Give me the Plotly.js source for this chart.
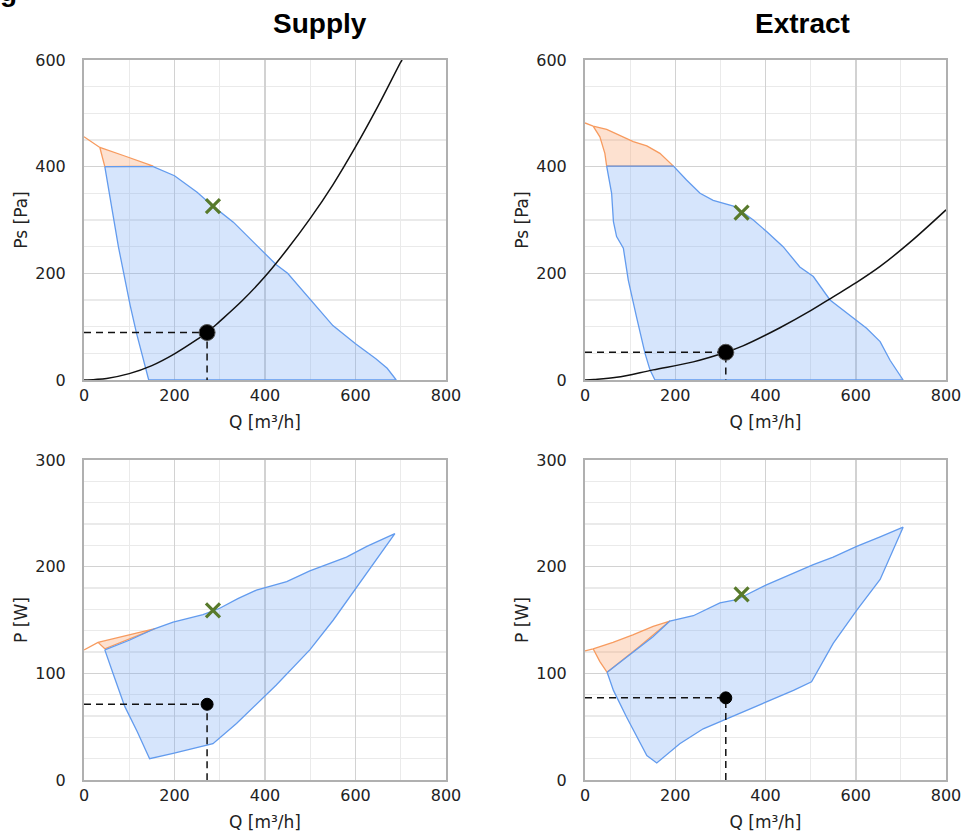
<!DOCTYPE html>
<html>
<head>
<meta charset="utf-8">
<script src="https://cdn.plot.ly/plotly-3.0.1.min.js"></script>
<style>html,body{margin:0;padding:0;background:#fff;}#chart{width:962px;height:836px;}</style>
</head>
<body>
<div id="chart"></div>
<script>
// ---------- Supply : Ps vs Q ----------
const supPsRangeQ  = [46, 100, 153, 200, 250, 285, 330, 375, 425, 450, 500, 550, 600, 645, 670, 690, 143, 130, 116, 102, 88, 76, 62, 46];
const supPsRangePs = [400, 400, 400, 383, 352, 326, 296, 258, 216, 200, 150, 102, 68, 40, 22, 0, 0, 40, 88, 140, 200, 250, 320, 400];
const supPsOverQ   = [0, 35, 90, 153, 46, 35];
const supPsOverPs  = [456, 436, 420, 401, 400, 436];
const supSysQ      = [0, 25, 50, 100, 150, 200, 250, 272, 300, 350, 400, 450, 500, 550, 600, 650, 700, 703];
const supSysPs     = [0, 1, 3, 12, 27, 49, 76, 89, 110, 149, 194, 246, 303, 366, 437, 514, 596, 600];
const supOpQ = 272, supOpPs = 89, supOpP = 71;
const supNomQ = 285, supNomPs = 326, supNomP = 159;

// ---------- Supply : P vs Q ----------
const supPRangeQ = [46, 100, 157, 197, 263, 300, 340, 381, 448, 499, 580, 625, 687, 603, 551, 499, 425, 337, 285, 197, 145, 118, 90, 64, 46];
const supPRangeP = [122, 131, 142, 148, 155, 161, 170, 178, 186, 196, 209, 219, 231, 181, 150, 122, 89, 53, 34, 25, 20, 45, 69, 100, 122];
const supPOverQ  = [0, 31, 70, 110, 157, 46, 31];
const supPOverP  = [122, 129, 133, 137, 142, 123, 129];

// ---------- Extract : Ps vs Q ----------
const extPsRangeQ  = [48, 120, 196, 225, 255, 284, 329, 347, 373, 403, 439, 476, 506, 543, 595, 624, 654, 676, 705, 155, 144, 133, 114, 96, 85, 70, 63, 59, 48];
const extPsRangePs = [401, 401, 401, 375, 350, 337, 326, 316, 300, 278, 250, 212, 194, 150, 116, 97, 72, 37, 0, 0, 19, 50, 119, 187, 247, 269, 297, 350, 401];
const extPsOverQ   = [0, 18, 48, 78, 107, 137, 166, 196, 48, 44, 33, 18];
const extPsOverPs  = [482, 476, 470, 459, 447, 439, 425, 401, 401, 425, 456, 476];
const extSysQ      = [0, 20, 70, 151, 240, 312, 350, 432, 500, 550, 600, 654, 720, 800];
const extSysPs     = [0, 1, 5, 19, 34, 52, 64, 98, 130, 156, 182, 213, 258, 319];
const extOpQ = 312, extOpPs = 52, extOpP = 77;
const extNomQ = 347, extNomPs = 314, extNomP = 174;

// ---------- Extract : P vs Q ----------
const extPRangeQ = [49, 100, 150, 188, 240, 299, 336, 402, 447, 506, 550, 602, 654, 705, 654, 602, 550, 502, 462, 395, 314, 262, 210, 159, 137, 92, 63, 49];
const extPRangeP = [101, 118, 134, 149, 154, 166, 169, 183, 191, 202, 209, 219, 228, 237, 188, 159, 128, 92, 84, 72, 58, 48, 34, 16, 23, 59, 84, 101];
const extPOverQ  = [0, 18, 62, 106, 151, 188, 120, 49, 33, 18];
const extPOverP  = [121, 123, 129, 136, 144, 149, 125, 101, 111, 123];

// ---------- axis ticks & labels ----------
const qTicks   = [0, 200, 400, 600, 800];
const psTicks  = [0, 200, 400, 600];
const pTicks   = [0, 100, 200, 300];
const qTitle   = 'Q [m³/h]';
const psTitle  = 'Ps [Pa]';
const pTitle   = 'P [W]';
const panelTitles = ['Supply', 'Extract'];

// ---------- styles ----------
const BLUE_LINE = 'rgb(98,155,238)';
const BLUE_FILL = 'rgba(120,170,245,0.30)';
const ORNG_LINE = 'rgb(247,155,95)';
const ORNG_FILL = 'rgba(250,170,120,0.35)';
const GREEN = '#587a2c';
const FONT = 'DejaVu Sans, Verdana, sans-serif';

const traces = [];
function addPanel(xa, ya, rQ, rV, oQ, oV, sQ, sV, opQ, opV, nomQ, nomV, bigDot) {
  traces.push({x: oQ, y: oV, xaxis: xa, yaxis: ya, type: 'scatter', mode: 'lines', fill: 'toself',
    fillcolor: ORNG_FILL, line: {color: ORNG_LINE, width: 1.3}, hoverinfo: 'skip'});
  traces.push({x: rQ, y: rV, xaxis: xa, yaxis: ya, type: 'scatter', mode: 'lines', fill: 'toself',
    fillcolor: BLUE_FILL, line: {color: BLUE_LINE, width: 1.3}, hoverinfo: 'skip'});
  if (sQ) {
    traces.push({x: sQ, y: sV, xaxis: xa, yaxis: ya, type: 'scatter', mode: 'lines',
      line: {color: '#111', width: 1.5, shape: 'spline'}, hoverinfo: 'skip'});
  }
  traces.push({x: [0, opQ, opQ], y: [opV, opV, 0], xaxis: xa, yaxis: ya, type: 'scatter', mode: 'lines',
    line: {color: '#111', width: 1.5, dash: '7px,5px'}, hoverinfo: 'skip'});
  traces.push({x: [opQ], y: [opV], xaxis: xa, yaxis: ya, type: 'scatter', mode: 'markers',
    marker: {color: '#000', size: bigDot ? 16 : 12, line: {color: bigDot ? '#555' : '#000', width: 1}}});
  traces.push({x: [nomQ], y: [nomV], xaxis: xa, yaxis: ya, type: 'scatter', mode: 'markers',
    marker: {symbol: 'x-thin', size: 14, line: {color: GREEN, width: 3.2}, color: GREEN}});
}
addPanel('x', 'y', supPsRangeQ, supPsRangePs, supPsOverQ, supPsOverPs, supSysQ, supSysPs, supOpQ, supOpPs, supNomQ, supNomPs, true);
addPanel('x2', 'y2', extPsRangeQ, extPsRangePs, extPsOverQ, extPsOverPs, extSysQ, extSysPs, extOpQ, extOpPs, extNomQ, extNomPs, true);
addPanel('x3', 'y3', supPRangeQ, supPRangeP, supPOverQ, supPOverP, null, null, supOpQ, supOpP, supNomQ, supNomP, false);
addPanel('x4', 'y4', extPRangeQ, extPRangeP, extPOverQ, extPOverP, null, null, extOpQ, extOpP, extNomQ, extNomP, false);

function xAxis(dom, anchor) {
  return {domain: dom, anchor: anchor, range: [0, 800], tickvals: qTicks, ticktext: qTicks.map(String),
    showline: true, mirror: true, linecolor: '#b0b0b0', linewidth: 2,
    showgrid: true, gridcolor: '#d2d2d2', gridwidth: 1.5,
    minor: {dtick: 100, tick0: 0, showgrid: true, gridcolor: '#eaeaea', gridwidth: 1.2},
    zeroline: false, ticks: '', ticklabelstandoff: 0,
    tickfont: {family: FONT, size: 16, color: '#222'},
    title: {text: qTitle, font: {family: FONT, size: 17, color: '#222'}, standoff: 12},
    automargin: false, fixedrange: true};
}
function yAxis(dom, anchor, rng, tv, mdt, ttl) {
  return {domain: dom, anchor: anchor, range: rng, tickvals: tv, ticktext: tv.map(String),
    showline: true, mirror: true, linecolor: '#b0b0b0', linewidth: 2,
    showgrid: true, gridcolor: '#d2d2d2', gridwidth: 1.5,
    minor: {dtick: mdt, tick0: 0, showgrid: true, gridcolor: '#eaeaea', gridwidth: 1.2},
    zeroline: false, ticks: '', ticklabelstandoff: 13,
    tickfont: {family: FONT, size: 16, color: '#222'},
    title: {text: ttl, font: {family: FONT, size: 17, color: '#222'}, standoff: 3},
    automargin: false, fixedrange: true};
}
const dx1 = [84 / 962, 446 / 962], dx2 = [585 / 962, 946 / 962];
const dyT = [1 - 380 / 836, 1 - 60 / 836], dyB = [1 - 780 / 836, 1 - 460 / 836];

const layout = {
  width: 962, height: 836, margin: {l: 0, r: 0, t: 0, b: 0},
  paper_bgcolor: '#fff', plot_bgcolor: '#fff', showlegend: false,
  xaxis: xAxis(dx1, 'y'), yaxis: yAxis(dyT, 'x', [0, 600], psTicks, 50, psTitle),
  xaxis2: xAxis(dx2, 'y2'), yaxis2: yAxis(dyT, 'x2', [0, 600], psTicks, 50, psTitle),
  xaxis3: xAxis(dx1, 'y3'), yaxis3: yAxis(dyB, 'x3', [0, 300], pTicks, 20, pTitle),
  xaxis4: xAxis(dx2, 'y4'), yaxis4: yAxis(dyB, 'x4', [0, 300], pTicks, 20, pTitle),
  annotations: [
    {text: '<b>' + panelTitles[0] + '</b>', xref: 'paper', yref: 'paper', x: 320 / 962, y: 1 - 23 / 836,
     xanchor: 'center', yanchor: 'middle', showarrow: false, font: {family: 'Liberation Sans, Arial', size: 28, color: '#000'}},
    {text: '<b>' + panelTitles[1] + '</b>', xref: 'paper', yref: 'paper', x: 802 / 962, y: 1 - 23 / 836,
     xanchor: 'center', yanchor: 'middle', showarrow: false, font: {family: 'Liberation Sans, Arial', size: 28, color: '#000'}},
    {text: '<b>g</b>', xref: 'paper', yref: 'paper', x: 0, y: 1, xanchor: 'left', yanchor: 'bottom',
     yshift: -9, xshift: -2, showarrow: false, font: {family: 'Liberation Sans, Arial', size: 28, color: '#000'}}
  ]
};

Plotly.newPlot('chart', traces, layout, {staticPlot: true, displayModeBar: false});
</script>
</body>
</html>
